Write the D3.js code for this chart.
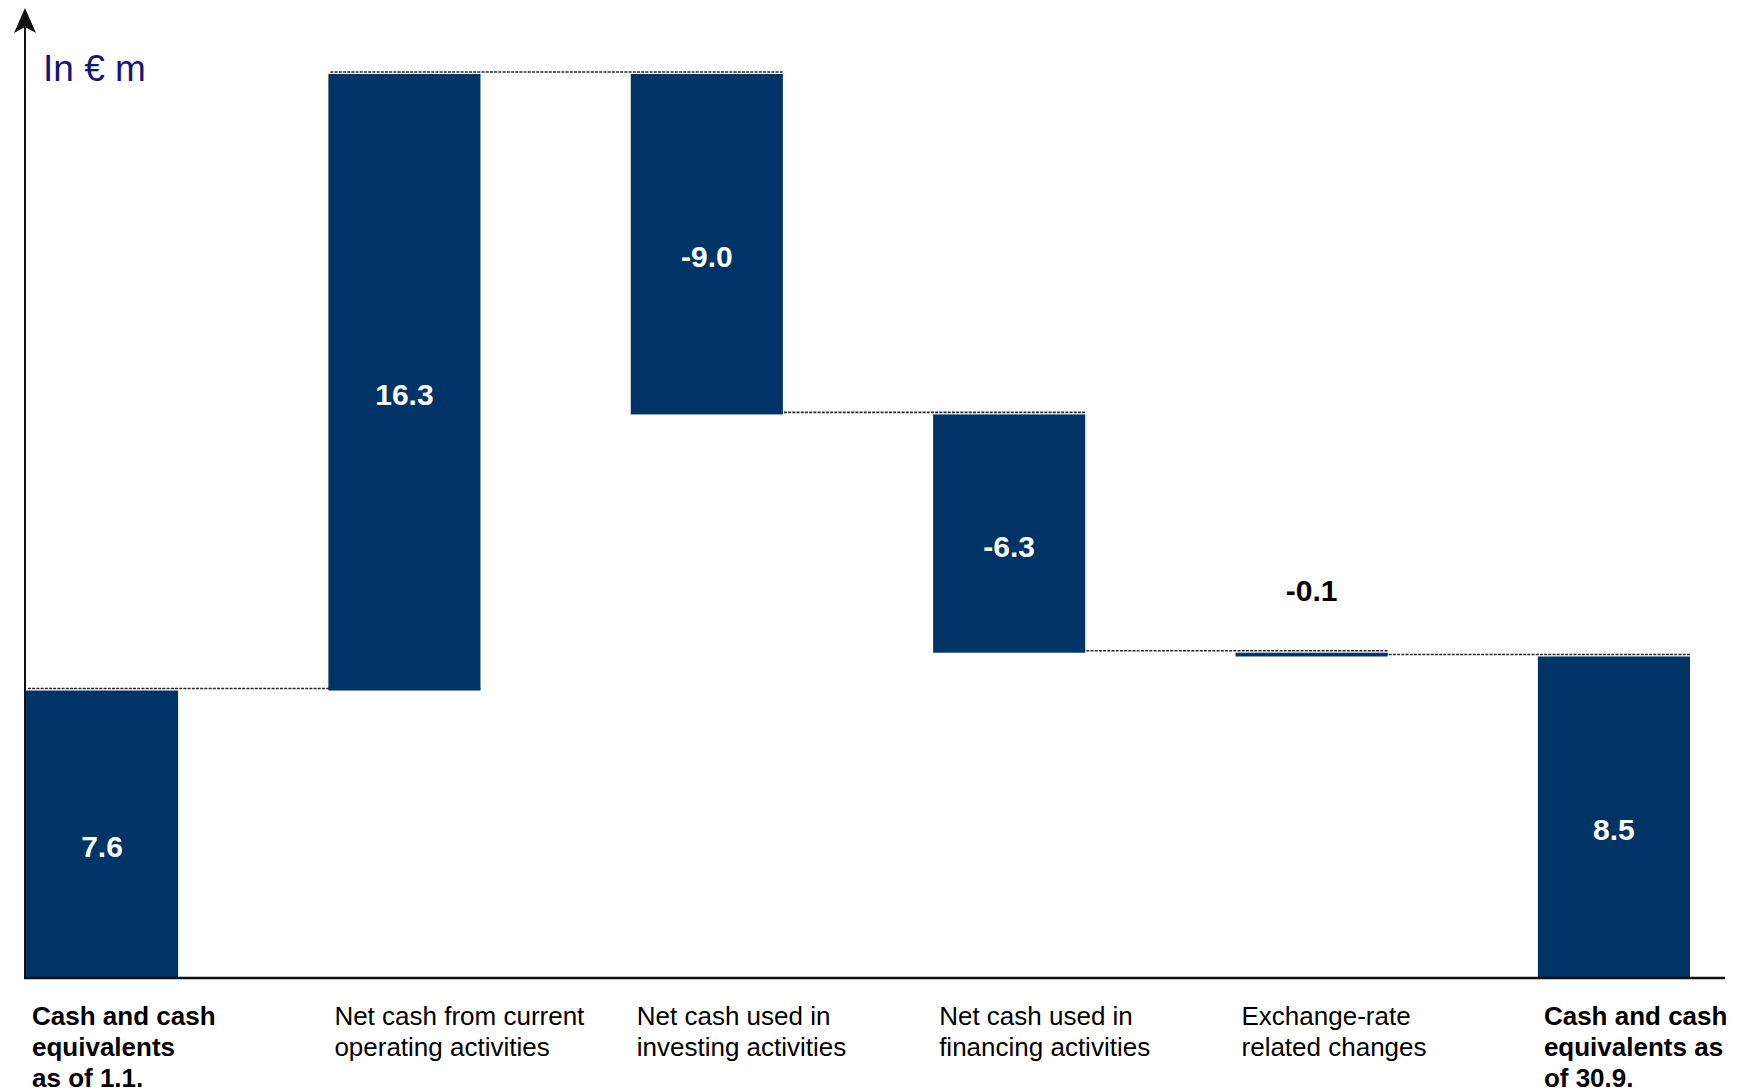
<!DOCTYPE html>
<html>
<head>
<meta charset="utf-8">
<script src="https://cdn.jsdelivr.net/npm/d3@7"></script>
<style>
  html, body { margin: 0; padding: 0; background: #ffffff; }
  svg { display: block; }
</style>
</head>
<body>
<svg id="chart" width="1745" height="1092"></svg>
<script>
// Cash-flow bridge (in € m)
const categories = ["open", "operating", "investing", "financing", "fx", "close"];
const categoryLines = [
  ["Cash and cash", "equivalents", "as of 1.1."],
  ["Net cash from current", "operating activities"],
  ["Net cash used in", "investing activities"],
  ["Net cash used in", "financing activities"],
  ["Exchange-rate", "related changes"],
  ["Cash and cash", "equivalents as", "of 30.9."]
];
const values = [7.6, 16.3, -9.0, -6.3, -0.1, 8.5];
const kinds = ["total", "delta", "delta", "delta", "delta", "total"];
const unitLabel = "In € m";

const svg = d3.select("#chart");
const FONT = "'Liberation Sans', Arial, sans-serif";
const BAR = "#003366";

// Build the waterfall steps: each bar runs from a start level to an end level
let running = 0;
const steps = values.map((v, i) => {
  let start, end;
  if (kinds[i] === "total") { start = 0; end = v; running = v; }
  else { start = running; end = running + v; running = end; }
  return { cat: categories[i], lines: categoryLines[i], value: v, kind: kinds[i], start, end };
});

const x = d3.scaleBand()
  .domain(categories)
  .range([26, 1690])
  .paddingInner(0.497)
  .paddingOuter(0);

const maxLevel = d3.max(steps, d => Math.max(d.start, d.end));
const y = d3.scaleLinear().domain([0, maxLevel]).range([978, 74]);

// Dashed connectors: from the left edge of a bar to the right edge of the next one
const conn = svg.append("g");
steps.slice(0, -1).forEach((d, i) => {
  const next = steps[i + 1];
  conn.append("line")
    .attr("x1", x(d.cat) + 2)
    .attr("x2", x(next.cat) + x.bandwidth())
    .attr("y1", y(d.end) - 2)
    .attr("y2", y(d.end) - 2)
    .attr("stroke", "#2a2a2a")
    .attr("stroke-width", 1.6)
    .attr("stroke-dasharray", "3,1.2");
});

// Bars
svg.append("g").selectAll("rect")
  .data(steps)
  .join("rect")
  .attr("x", d => x(d.cat))
  .attr("width", x.bandwidth())
  .attr("y", d => y(Math.max(d.start, d.end)))
  .attr("height", d => Math.max(1, Math.abs(y(d.start) - y(d.end))))
  .attr("fill", BAR);

// Value labels (plain hyphen for negatives)
const fmt = d3.formatLocale({ decimal: ".", thousands: ",", grouping: [3], currency: ["", ""], minus: "-" }).format(".1f");
svg.append("g").selectAll("text")
  .data(steps)
  .join("text")
  .each(function (d) {
    const yTop = y(Math.max(d.start, d.end));
    const yBot = y(Math.min(d.start, d.end));
    const inside = (yBot - yTop) > 40;
    d3.select(this)
      .attr("x", x(d.cat) + x.bandwidth() / 2)
      .attr("y", inside ? (yTop + yBot) / 2 + 23 : yTop - 52)
      .attr("fill", inside ? "#ffffff" : "#000000");
  })
  .attr("text-anchor", "middle")
  .attr("font-family", FONT)
  .attr("font-weight", "bold")
  .attr("font-size", 30)
  .text(d => fmt(d.value));

// Axes: horizontal baseline and vertical arrow
svg.append("line")
  .attr("x1", 24).attr("x2", 1725)
  .attr("y1", y(0)).attr("y2", y(0))
  .attr("stroke", "#111").attr("stroke-width", 2.5);
svg.append("line")
  .attr("x1", 25).attr("x2", 25)
  .attr("y1", y(0) + 1).attr("y2", 20)
  .attr("stroke", "#111").attr("stroke-width", 2);
svg.append("path")
  .attr("d", "M25,8 L36,33 L25,27 L14,33 Z")
  .attr("fill", "#111");

// Unit label
svg.append("text")
  .attr("x", 43).attr("y", 81)
  .attr("font-family", FONT)
  .attr("font-size", 37)
  .attr("fill", "#14147a")
  .text(unitLabel);

// Category labels
const cats = svg.append("g");
steps.forEach(d => {
  const t = cats.append("text")
    .attr("x", x(d.cat) + 6)
    .attr("y", 1025)
    .attr("font-family", FONT)
    .attr("font-size", 26)
    .attr("font-weight", d.kind === "total" ? "bold" : "normal")
    .attr("fill", "#000");
  d.lines.forEach((line, j) => {
    t.append("tspan")
      .attr("x", x(d.cat) + 6)
      .attr("dy", j === 0 ? 0 : 31)
      .text(line);
  });
});
</script>
</body>
</html>
